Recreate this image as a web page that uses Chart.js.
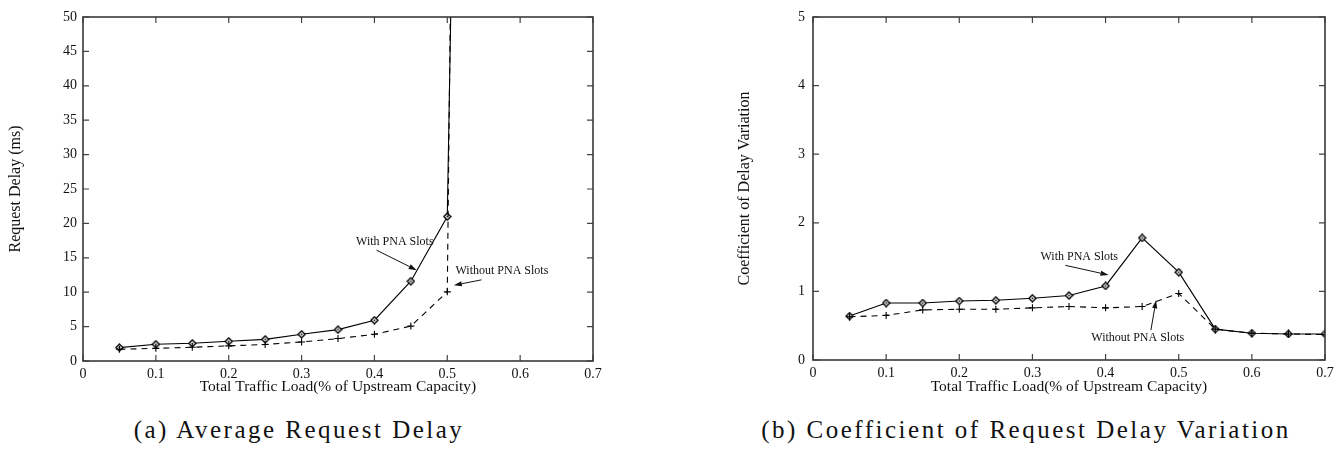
<!DOCTYPE html>
<html><head><meta charset="utf-8">
<script src="https://cdn.jsdelivr.net/npm/chart.js@4.4.0/dist/chart.umd.min.js"></script>
<style>
html,body{margin:0;padding:0;background:#fff;}
body{width:1341px;height:449px;position:relative;overflow:hidden;font-family:'Liberation Serif',serif;}
.wrap{position:absolute;top:0;height:400px;}
.cap{position:absolute;top:417px;font-family:'Liberation Serif',serif;font-size:25px;line-height:25px;letter-spacing:2.5px;color:#111;white-space:nowrap;transform:translateX(-50%);}
.probe{position:absolute;left:-999px;top:0;font-family:'Liberation Serif';font-size:14px;}
</style></head><body>
<span class="probe">0.1 Total</span>
<div class="wrap" style="left:0;width:670px"><canvas id="c1" width="670" height="400"></canvas></div>
<div class="wrap" style="left:670px;width:671px"><canvas id="c2" width="671" height="400"></canvas></div>
<div class="cap" id="cap1" style="left:299px"></div>
<div class="cap" id="cap2" style="left:1026px"></div>
<script>
// ---------- data ----------
const loadLeft = [0.05,0.10,0.15,0.20,0.25,0.30,0.35,0.40,0.45,0.50,0.55];
const delayWithPNA = [1.95,2.43,2.57,2.86,3.15,3.88,4.56,5.93,11.6,21.0,330];
const delayWithoutPNA = [1.70,1.84,2.00,2.20,2.40,2.77,3.26,3.88,5.07,10.05,500];

const loadRight = [0.05,0.10,0.15,0.20,0.25,0.30,0.35,0.40,0.45,0.50,0.55,0.60,0.65,0.70];
const covWithPNA = [0.64,0.83,0.83,0.86,0.87,0.90,0.94,1.08,1.78,1.28,0.45,0.39,0.38,0.38];
const covWithoutPNA = [0.63,0.65,0.73,0.74,0.74,0.76,0.78,0.76,0.78,0.97,0.45,0.39,0.38,0.37];

const xTickValues = [0,0.1,0.2,0.3,0.4,0.5,0.6,0.7];
const xTickLabels = ['0','0.1','0.2','0.3','0.4','0.5','0.6','0.7'];
const yTickLeft = [0,5,10,15,20,25,30,35,40,45,50];
const yTickRight = [0,1,2,3,4,5];

const xTitle = 'Total Traffic Load(% of Upstream Capacity)';
const yTitleLeft = 'Request Delay (ms)';
const yTitleRight = 'Coefficient of Delay Variation';
const captionLeft = '(a) Average Request Delay';
const captionRight = '(b) Coefficient of Request Delay Variation';

const noteTexts = ['With PNA Slots','Without PNA Slots'];
const noteLeftX = [0.428,0.575], noteLeftY = [17.3,13.1];
const arrowLeftFrom = [[0.403,16.1],[0.547,11.8]];
const arrowLeftTo = [[0.458,13.2],[0.509,11.0]];
const noteRightX = [0.364,0.444], noteRightY = [1.50,0.33];
const arrowRightFrom = [[0.345,1.38],[0.462,0.436]];
const arrowRightTo = [[0.404,1.24],[0.469,0.87]];

document.getElementById('cap1').textContent = captionLeft;
document.getElementById('cap2').textContent = captionRight;

// ---------- markers ----------
function diamondMarker(){
  const c = document.createElement('canvas'); c.width = 9; c.height = 9;
  const g = c.getContext('2d');
  g.fillStyle = '#fff'; g.strokeStyle = '#000'; g.lineWidth = 1.35;
  g.beginPath(); g.moveTo(4.5,1); g.lineTo(8,4.5); g.lineTo(4.5,8); g.lineTo(1,4.5); g.closePath();
  g.fill(); g.stroke();
  g.fillStyle = '#000'; g.fillRect(3.7,3.7,1.6,1.6);
  return c;
}
const diamond = diamondMarker();

// ---------- plugins ----------
const frameTicks = {
  id: 'frameTicks',
  afterDatasetsDraw(chart, args, opts){
    const {ctx, chartArea: a, scales: {x, y}} = chart;
    ctx.save();
    ctx.strokeStyle = '#444'; ctx.lineWidth = 1.2;
    ctx.beginPath();
    opts.xTicks.forEach(v => { const px = x.getPixelForValue(v);
      ctx.moveTo(px, a.bottom); ctx.lineTo(px, a.bottom - 6);
      ctx.moveTo(px, a.top); ctx.lineTo(px, a.top + 6); });
    opts.yTicks.forEach(v => { const py = y.getPixelForValue(v);
      ctx.moveTo(a.left, py); ctx.lineTo(a.left + 6, py);
      ctx.moveTo(a.right, py); ctx.lineTo(a.right - 6, py); });
    ctx.stroke();
    ctx.lineWidth = 1.6; ctx.strokeStyle = '#3a3a3a';
    ctx.strokeRect(a.left, a.top, a.right - a.left, a.bottom - a.top);
    ctx.restore();
  }
};
const notes = {
  id: 'notes',
  afterDatasetsDraw(chart, args, opts){
    const {ctx, scales: {x, y}} = chart;
    ctx.save();
    ctx.font = "12px 'Liberation Serif'"; ctx.fillStyle = '#111';
    ctx.textAlign = 'center'; ctx.textBaseline = 'middle';
    opts.texts.forEach((t, i) => ctx.fillText(t, x.getPixelForValue(opts.tx[i]), y.getPixelForValue(opts.ty[i])));
    ctx.strokeStyle = '#111'; ctx.lineWidth = 1;
    opts.from.forEach((f, i) => {
      const x0 = x.getPixelForValue(f[0]), y0 = y.getPixelForValue(f[1]);
      const x1 = x.getPixelForValue(opts.to[i][0]), y1 = y.getPixelForValue(opts.to[i][1]);
      const ang = Math.atan2(y1 - y0, x1 - x0), L = 8, W = 2.6;
      const bx = x1 - L * Math.cos(ang), by = y1 - L * Math.sin(ang);
      ctx.beginPath(); ctx.moveTo(x0, y0); ctx.lineTo(bx, by); ctx.stroke();
      ctx.beginPath(); ctx.moveTo(x1, y1);
      ctx.lineTo(bx + W * Math.sin(ang), by - W * Math.cos(ang));
      ctx.lineTo(bx - W * Math.sin(ang), by + W * Math.cos(ang));
      ctx.closePath(); ctx.fillStyle = '#111'; ctx.fill();
    });
    ctx.restore();
  }
};

const serif = "'Liberation Serif', serif";

function makeChart(id, xs, withVals, withoutVals, yMax, yTicks, yTitle, cfg){
  const xyW = xs.map((v, i) => ({x: v, y: withVals[i]}));
  const xyWo = xs.map((v, i) => ({x: v, y: withoutVals[i]}));
  return new Chart(document.getElementById(id), {
    type: 'line',
    data: { datasets: [
      { label: 'Without PNA Slots', data: xyWo, borderColor: '#000', borderWidth: 1.1, borderDash: [6,5],
        pointStyle: 'cross', pointRadius: 3.5, pointBorderWidth: 1.1, pointBorderColor: '#000', tension: 0, fill: false },
      { label: 'With PNA Slots', data: xyW, borderColor: '#000', borderWidth: 1.1,
        pointStyle: diamond, pointRadius: 4, tension: 0, fill: false }
    ]},
    options: {
      responsive: false, animation: false, events: [],
      layout: { padding: { left: 0, right: cfg.padRight, top: 17, bottom: 0 } },
      plugins: { legend: { display: false }, tooltip: { enabled: false },
        frameTicks: { xTicks: xTickValues, yTicks: yTicks },
        notes: cfg.notes },
      scales: {
        x: { type: 'linear', min: 0, max: 0.7,
          afterBuildTicks: s => { s.ticks = xTickValues.map(v => ({value: v})); },
          afterFit: s => { s.height = cfg.xHeight; },
          grid: { display: false, drawTicks: false }, border: { display: false },
          ticks: { padding: 5, color: '#111', font: { family: serif, size: 14 }, maxRotation: 0, autoSkip: false,
            callback: (v) => { const i = xTickValues.findIndex(t => Math.abs(t - v) < 1e-9); return i >= 0 ? xTickLabels[i] : ''; } },
          title: { display: true, text: xTitle, color: '#111', font: { family: serif, size: 15.5 }, padding: { top: 0, bottom: 4 } }
        },
        y: { type: 'linear', min: 0, max: yMax,
          afterBuildTicks: s => { s.ticks = yTicks.map(v => ({value: v})); },
          afterFit: s => { s.width = cfg.yWidth; },
          grid: { display: false, drawTicks: false }, border: { display: false },
          ticks: { padding: cfg.yPad, color: '#111', font: { family: serif, size: 14 }, autoSkip: false,
            callback: (v) => String(v) },
          title: { display: true, text: yTitle, color: '#111', font: { family: serif, size: 16 }, padding: { top: cfg.yTitlePad, bottom: 0 } }
        }
      }
    },
    plugins: [frameTicks, notes]
  });
}

function draw(){
  makeChart('c1', loadLeft, delayWithPNA, delayWithoutPNA, 50, yTickLeft, yTitleLeft, {
    padRight: 77, xHeight: 39, yWidth: 83, yPad: 6, yTitlePad: 6.5,
    notes: { texts: noteTexts, tx: noteLeftX, ty: noteLeftY, from: arrowLeftFrom, to: arrowLeftTo }
  });
  makeChart('c2', loadRight, covWithPNA, covWithoutPNA, 5, yTickRight, yTitleRight, {
    padRight: 16, xHeight: 40, yWidth: 143, yPad: 8, yTitlePad: 65.5,
    notes: { texts: noteTexts, tx: noteRightX, ty: noteRightY, from: arrowRightFrom, to: arrowRightTo }
  });
}
Promise.all([
  document.fonts.load("14px 'Liberation Serif'"),
  document.fonts.load("12px 'Liberation Serif'")
]).then(draw, draw);
</script>
</body></html>
